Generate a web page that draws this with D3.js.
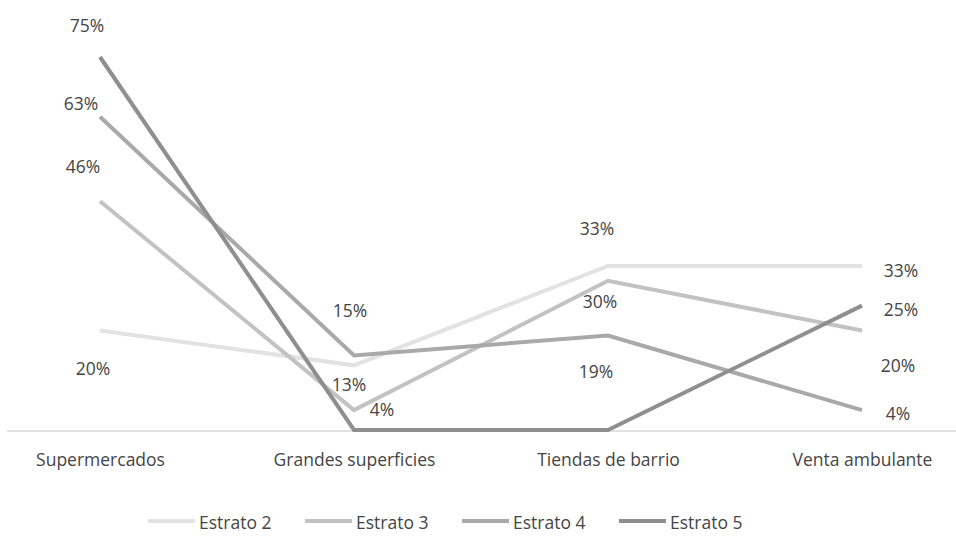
<!DOCTYPE html>
<html>
<head>
<meta charset="utf-8">
<script src="https://cdn.jsdelivr.net/npm/d3@7"></script>
<style>
  html, body { margin: 0; padding: 0; background: #fff; }
  svg text { font-family: "Open Sans", "Noto Sans", sans-serif; fill: #454545; }
</style>
</head>
<body>
<svg id="chart" width="956" height="542"></svg>
<script>
// Shopping channel share by socio-economic stratum
const categories = ["Supermercados", "Grandes superficies", "Tiendas de barrio", "Venta ambulante"];
const seriesNames = ["Estrato 2", "Estrato 3", "Estrato 4", "Estrato 5"];
const estrato2 = [20, 13, 33, 33];
const estrato3 = [46, 4, 30, 20];
const estrato4 = [63, 15, 19, 4];
const estrato5 = [75, 0, 0, 25];
const seriesValues = [estrato2, estrato3, estrato4, estrato5];

// Visual styling
const colors = ["#e2e2e2", "#c2c2c2", "#a9a9a9", "#8f8f8f"];
const fontSize = "17.5px";
// Manual data-label placement (dx, dy from each point), null = label not shown
const labelOffsets = [
  [[-7, 37], [-5, 19], [-11, -38], [39, 4]],
  [[-17, -35], [28, -1], [-8, 20], [36, 34]],
  [[-19, -14], [-4, -45], [-12, 35], [36, 3]],
  [[-13, -32], null, null, [39, 3]]
];

const svg = d3.select("#chart");

const x = d3.scalePoint().domain(categories).range([100, 862]);
const y = d3.scaleLinear().domain([0, 75]).range([430, 57]);

// Category axis baseline
svg.append("line")
  .attr("x1", 7).attr("x2", 956)
  .attr("y1", y(0) + 1).attr("y2", y(0) + 1)
  .attr("stroke", "#d9d9d9").attr("stroke-width", 1.5);

const xAxis = svg.append("g")
  .attr("transform", `translate(0,${y(0) + 1})`)
  .call(d3.axisBottom(x).tickSize(0).tickPadding(23));
xAxis.select(".domain").remove();
xAxis.selectAll("text")
  .style("font-size", fontSize)
  .style("font-family", "\"Open Sans\", sans-serif")
  .attr("fill", "#454545");

const line = d3.line()
  .x((d, i) => x(categories[i]))
  .y(d => y(d));

seriesValues.forEach((vals, s) => {
  svg.append("path")
    .datum(vals)
    .attr("d", line)
    .attr("fill", "none")
    .attr("stroke", colors[s])
    .attr("stroke-width", 4)
    .attr("stroke-linejoin", "miter");
});

// Data labels
seriesValues.forEach((vals, s) => {
  vals.forEach((v, i) => {
    const off = labelOffsets[s][i];
    if (!off) return;
    svg.append("text")
      .attr("x", x(categories[i]) + off[0])
      .attr("y", y(v) + off[1])
      .attr("text-anchor", "middle")
      .attr("dominant-baseline", "central")
      .style("font-size", fontSize)
      .text(v + "%");
  });
});

// Legend
const legend = svg.append("g");
seriesNames.forEach((name, s) => {
  const x0 = 148 + s * 157;
  legend.append("line")
    .attr("x1", x0).attr("x2", x0 + 47)
    .attr("y1", 521).attr("y2", 521)
    .attr("stroke", colors[s]).attr("stroke-width", 4);
  legend.append("text")
    .attr("x", x0 + 51).attr("y", 522)
    .attr("dominant-baseline", "central")
    .style("font-size", fontSize)
    .text(name);
});
</script>
</body>
</html>
